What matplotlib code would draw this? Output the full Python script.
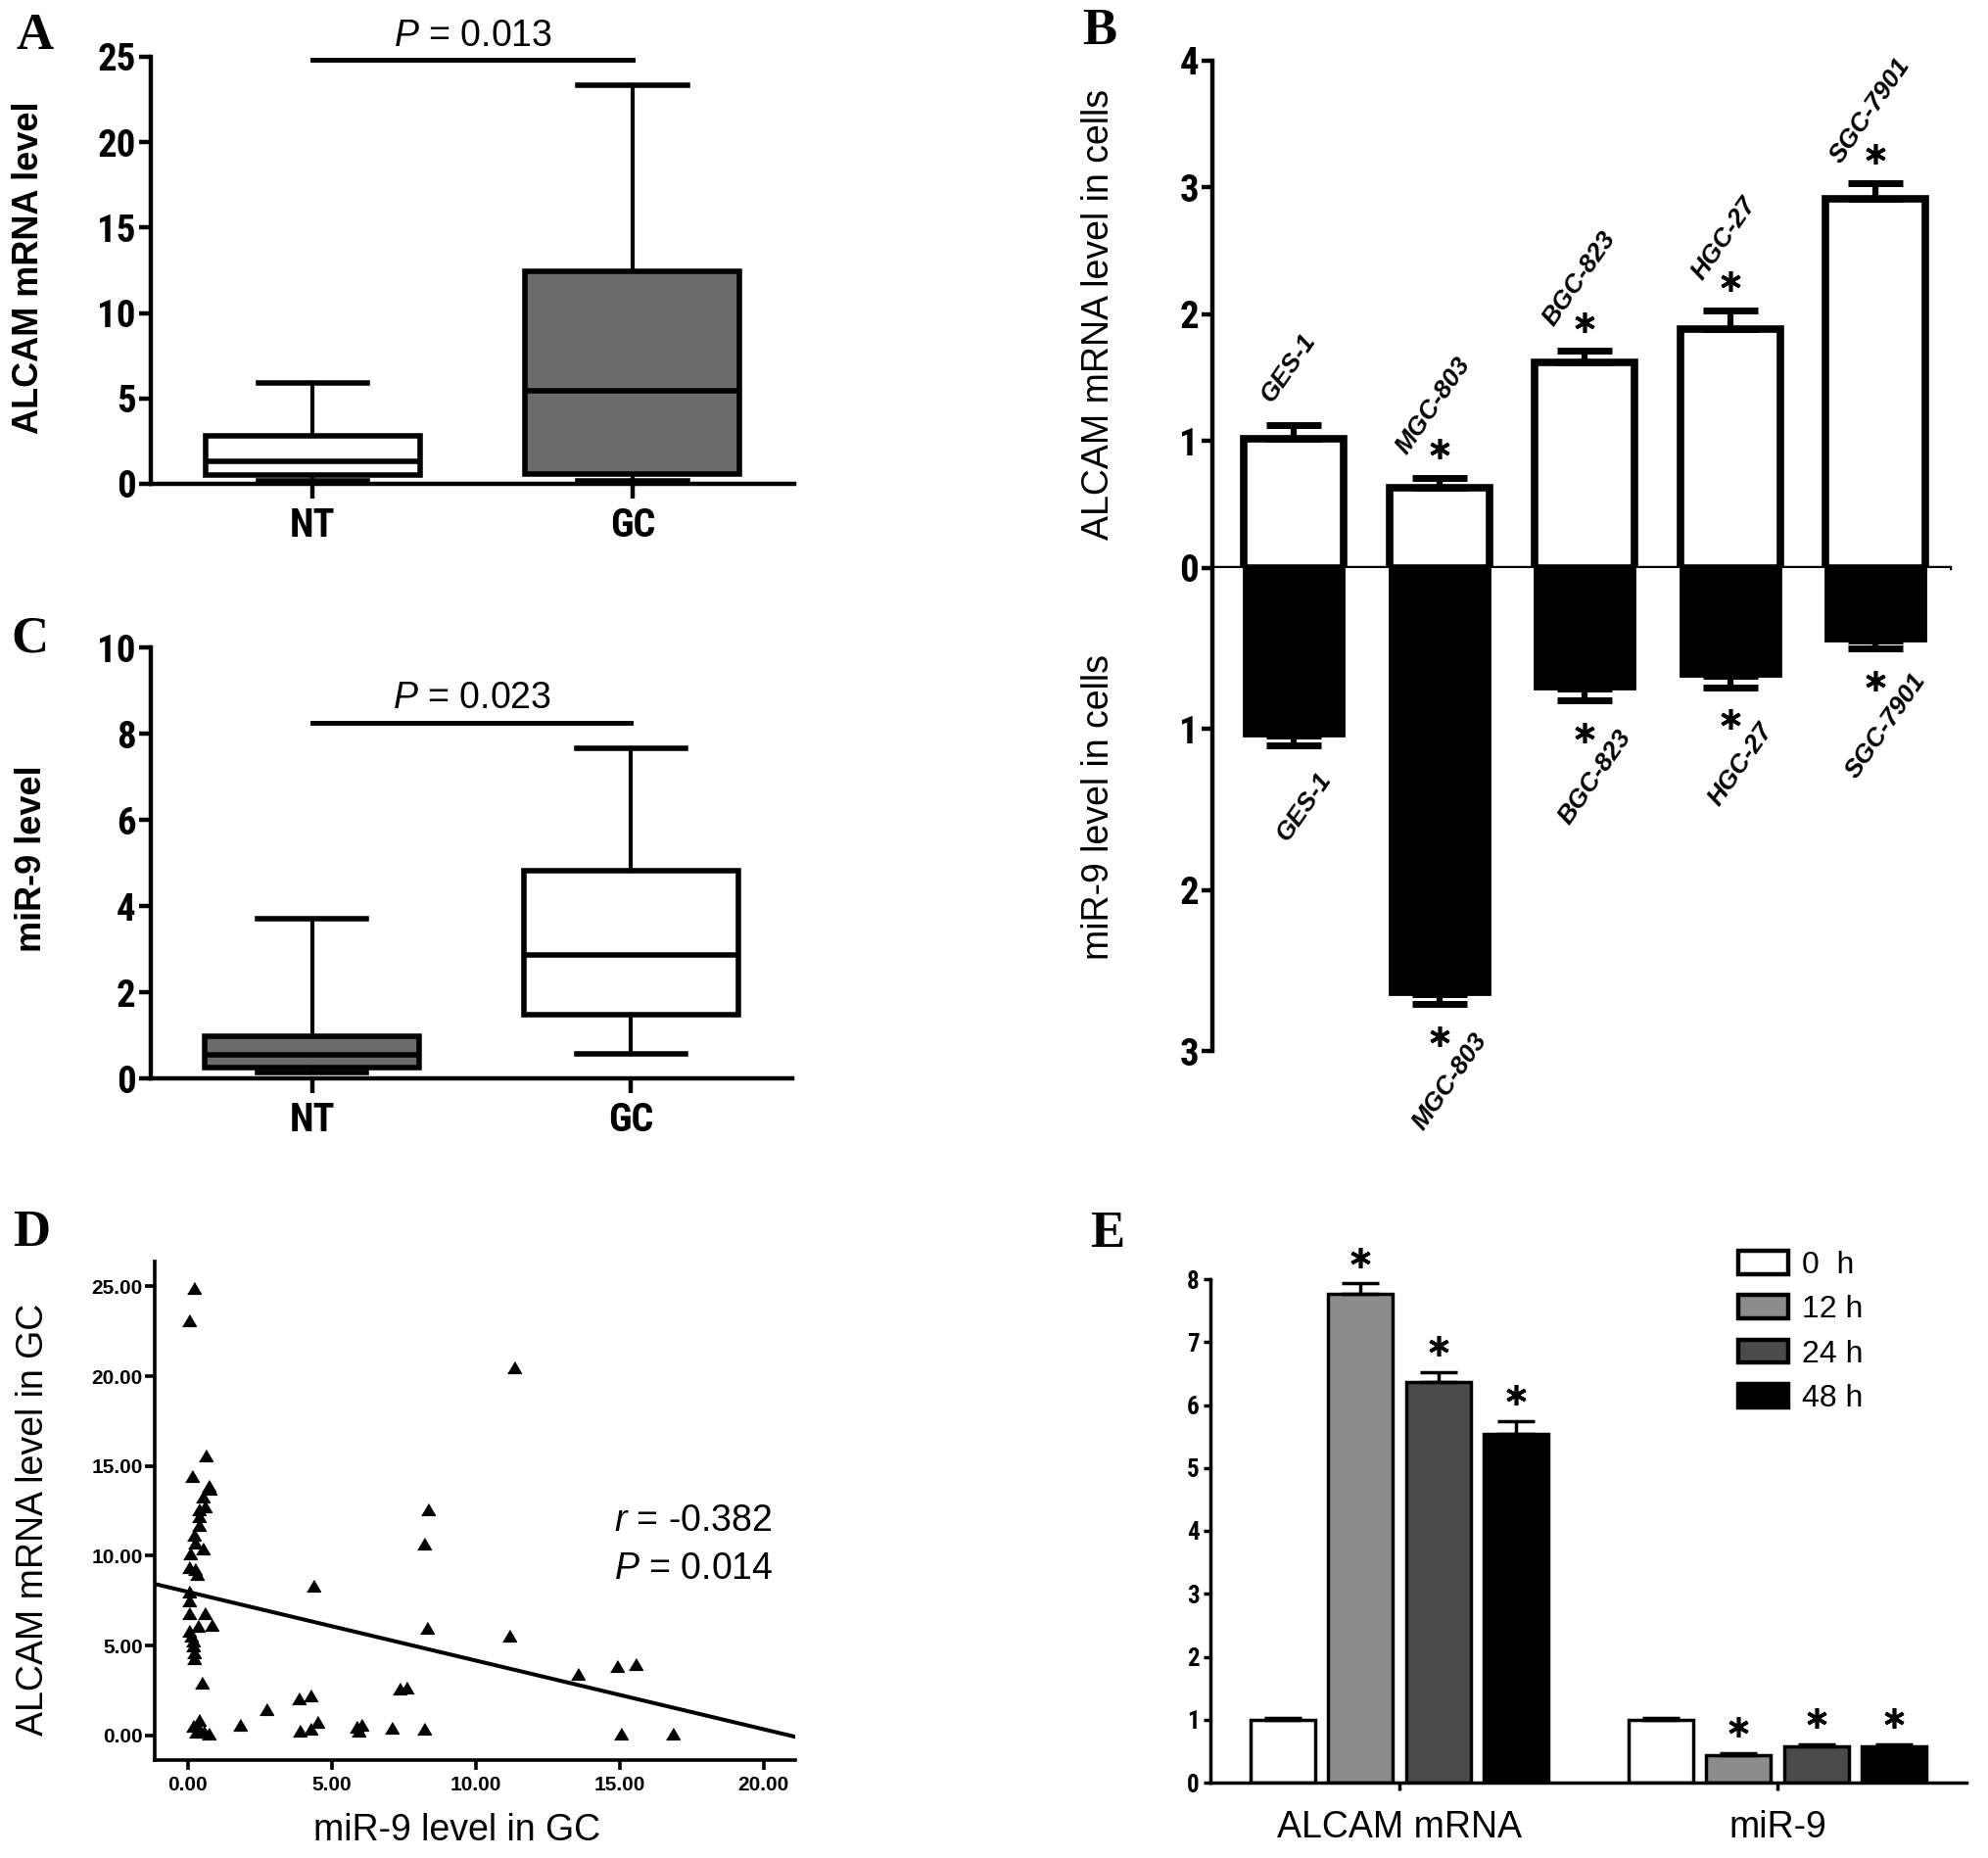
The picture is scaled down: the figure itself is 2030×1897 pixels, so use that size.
import matplotlib
matplotlib.use('Agg')
import matplotlib.pyplot as plt
from matplotlib import font_manager
from matplotlib.ticker import FormatStrFormatter

installed = {f.name for f in font_manager.fontManager.ttflist}
SANS = 'Liberation Sans' if 'Liberation Sans' in installed else 'DejaVu Sans'
SERIF = 'Liberation Serif' if 'Liberation Serif' in installed else 'DejaVu Serif'
NARROW = next((n for n in ['Liberation Sans Narrow', 'Roboto Condensed', 'Open Sans Condensed']
               if n in installed), None)

plt.rcParams['font.family'] = [SANS, 'DejaVu Sans']
plt.rcParams['mathtext.fontset'] = 'custom'
plt.rcParams['mathtext.rm'] = SANS
plt.rcParams['mathtext.it'] = SANS + ':italic'
plt.rcParams['mathtext.bf'] = SANS + ':bold'

# ---------------- data ----------------
# A: ALCAM mRNA level, tissues (box plot stats)
box_groups = ['NT', 'GC']
a_q1 = [0.50, 0.60]
a_med = [1.30, 5.45]
a_q3 = [2.80, 12.45]
a_lo = [0.17, 0.15]
a_hi = [5.88, 23.36]
a_fill = ['white', '#6b6b6b']
a_p = '$\\mathit{P}$ = 0.013'

# C: miR-9 level, tissues
c_q1 = [0.24, 1.49]
c_med = [0.55, 2.87]
c_q3 = [0.985, 4.82]
c_lo = [0.13, 0.57]
c_hi = [3.72, 7.67]
c_fill = ['#6b6b6b', 'white']
c_p = '$\\mathit{P}$ = 0.023'

# B: cell lines
cell_lines = ['GES-1', 'MGC-803', 'BGC-823', 'HGC-27', 'SGC-7901']
b_alcam = [1.02, 0.63, 1.62, 1.88, 2.91]
b_alcam_err = [0.11, 0.08, 0.09, 0.15, 0.12]
b_mir9 = [1.04, 2.65, 0.75, 0.67, 0.45]
b_mir9_err = [0.06, 0.06, 0.07, 0.07, 0.05]
b_sig = [False, True, True, True, True]

# D: correlation in GC tissues
d_mir9 = [0.22, 0.05, 0.62, 0.15, 0.71, 0.75, 0.53, 0.37, 0.59, 0.37,
          0.39, 0.22, 0.25, 0.50, 0.07, 0.05, 0.25, 0.32, 0.05, 0.05,
          0.05, 0.58, 0.82, 0.35, 0.05, 0.10, 0.16, 0.19, 0.22, 0.22,
          0.47, 0.16, 0.37, 0.39, 0.56, 0.71, 0.27,
          1.81, 2.72, 3.85, 4.26, 4.35, 3.89, 4.26, 4.50, 5.87, 6.02,
          5.93, 7.09, 7.35, 7.59, 8.20, 8.33, 8.20, 8.30, 11.15, 11.33,
          13.56, 14.91, 15.56, 15.06, 16.85]
d_alcam = [24.92, 23.10, 15.59, 14.42, 13.91, 13.73, 13.28, 12.60, 12.73, 12.18,
           11.73, 11.18, 10.73, 10.40, 10.15, 9.37, 9.28, 9.00, 8.00, 7.51,
           6.82, 6.82, 6.13, 6.09, 5.82, 5.55, 5.28, 5.00, 4.64, 4.31,
           2.91, 0.55, 0.86, 0.37, 0.18, 0.09, 0.18,
           0.60, 1.47, 2.05, 2.21, 8.33, 0.26, 0.35, 0.77, 0.49, 0.58,
           0.26, 0.42, 2.58, 2.67, 0.35, 12.56, 10.65, 6.00, 5.53, 20.47,
           3.44, 3.84, 3.98, 0.12, 0.12]
d_intercept = 7.99
d_slope = -0.3825
d_r = '$\\mathit{r}$ = -0.382'
d_p = '$\\mathit{P}$ = 0.014'

# E: time course
e_groups = ['ALCAM mRNA', 'miR-9']
e_times = ['0  h', '12 h', '24 h', '48 h']
e_colors = ['white', '#8c8c8c', '#4b4b4b', 'black']
e_alcam = [1.00, 7.77, 6.37, 5.54]
e_alcam_err = [0.02, 0.16, 0.15, 0.20]
e_mir9 = [1.00, 0.43, 0.58, 0.57]
e_mir9_err = [0.02, 0.03, 0.03, 0.04]
e_sig = [False, True, True, True]

# ---------------- layout helpers (pixels) ----------------
W, H = 2031, 1897
fig = plt.figure(figsize=(W / 100, H / 100), dpi=100)


def rect(l, t, r, b):
    return [l / W, 1 - b / H, (r - l) / W, (b - t) / H]


def fpos(x, y):
    return x / W, 1 - y / H


def cond_ticks(ax, size, axis='both'):
    # condensed bold tick labels (Arial Narrow look)
    labels = []
    if axis in ('both', 'x'):
        labels += ax.get_xticklabels()
    if axis in ('both', 'y'):
        labels += ax.get_yticklabels()
    for t in labels:
        t.set_fontweight('bold')
        if NARROW:
            t.set_family([NARROW, SANS])
            t.set_fontsize(size)
        else:
            t.set_fontsize(size * 0.86)


def box_panel(r, q1, med, q3, lo, hi, fills, ymax, ystep, ptext, pbar, ptext_y):
    ax = fig.add_axes(rect(*r))
    stats = [dict(label=g, q1=a, med=m, q3=b, whislo=l, whishi=h, fliers=[])
             for g, a, m, b, l, h in zip(box_groups, q1, med, q3, lo, hi)]
    bp = ax.bxp(stats, positions=[1, 2], widths=0.67, capwidths=0.34,
                patch_artist=True, showfliers=False,
                boxprops=dict(linewidth=4, edgecolor='k'),
                medianprops=dict(linewidth=4, color='k'),
                whiskerprops=dict(linewidth=3, color='k'),
                capprops=dict(linewidth=4, color='k'))
    for patch, c in zip(bp['boxes'], fills):
        patch.set_facecolor(c)
    ax.set_xlim(0.495, 2.505)
    ax.set_ylim(0, ymax)
    ax.set_yticks(range(0, ymax + 1, ystep))
    for s in ['top', 'right']:
        ax.spines[s].set_visible(False)
    for s in ['left', 'bottom']:
        ax.spines[s].set_linewidth(3.2)
    ax.tick_params(axis='y', length=9, width=3.2, pad=2)
    ax.tick_params(axis='x', length=11, width=3.2, pad=6)
    cond_ticks(ax, 28, 'y')
    cond_ticks(ax, 29, 'x')
    ax.plot([1, 2], [pbar, pbar], color='k', lw=3.5, clip_on=False)
    ax.text(1.5, ptext_y, ptext, ha='center', va='center', fontsize=27, clip_on=False)
    return ax


# ---------------- A ----------------
ax_a = box_panel((154, 58, 811, 494), a_q1, a_med, a_q3, a_lo, a_hi, a_fill,
                 25, 5, a_p, 24.85, 26.2)
fig.text(*fpos(30, 273), 'ALCAM mRNA level', rotation=90, ha='center', va='center',
         fontsize=26, fontweight='bold')

# ---------------- C ----------------
ax_c = box_panel((154, 661.5, 809, 1101), c_q1, c_med, c_q3, c_lo, c_hi, c_fill,
                 10, 2, c_p, 8.25, 8.82)
fig.text(*fpos(33, 877), 'miR-9 level', rotation=90, ha='center', va='center',
         fontsize=26, fontweight='bold')

# ---------------- B ----------------
xb = list(range(len(cell_lines)))
ax_bu = fig.add_axes(rect(1238, 61.5, 1991, 580))
ax_bl = fig.add_axes(rect(1238, 580, 1991, 1073))
ax_bu.bar(xb, b_alcam, 0.687, color='white', edgecolor='k', linewidth=5.5, zorder=2)
ax_bu.errorbar(xb, b_alcam, yerr=[[0] * len(xb), b_alcam_err], fmt='none', ecolor='k',
               elinewidth=4.5, capsize=20, capthick=5, zorder=3)
ax_bl.bar(xb, b_mir9, 0.687, color='black', edgecolor='k', linewidth=2, zorder=2)
ax_bl.errorbar(xb, b_mir9, yerr=[[0] * len(xb), b_mir9_err], fmt='none', ecolor='k',
               elinewidth=4.5, capsize=20, capthick=5, zorder=3)
for ax in (ax_bu, ax_bl):
    ax.set_xlim(-0.56, 4.51)
    for s in ['top', 'right']:
        ax.spines[s].set_visible(False)
    ax.spines['left'].set_linewidth(3.2)
    ax.tick_params(axis='y', length=8, width=3.2, pad=2)
ax_bu.set_ylim(0, 4)
ax_bu.set_yticks(range(0, 5))
ax_bu.spines['bottom'].set_linewidth(3.2)
ax_bu.set_xticks(xb)
ax_bu.tick_params(axis='x', direction='in', length=7, width=3.5, labelbottom=False)
ax_bl.set_ylim(3, 0)
ax_bl.set_yticks([1, 2, 3])
ax_bl.spines['bottom'].set_visible(False)
ax_bl.set_xticks([])
cond_ticks(ax_bu, 28, 'y')
cond_ticks(ax_bl, 28, 'y')

for i, name in enumerate(cell_lines):
    top = b_alcam[i] + b_alcam_err[i]
    bot = b_mir9[i] + b_mir9_err[i]
    if b_sig[i]:
        ax_bu.plot(i, top + 0.23, marker=(6, 2, 0), ms=15, mew=2.6, color='k', ls='none')
        ax_bl.plot(i, bot + 0.20, marker=(6, 2, 0), ms=15, mew=2.6, color='k', ls='none',
                   clip_on=False)
    ax_bu.text(i - 0.04, top + (0.57 if b_sig[i] else 0.45), name, rotation=55,
               rotation_mode='anchor', ha='center', va='center', fontsize=19,
               fontweight='bold', style='italic')
    ax_bl.text(i + 0.07, bot + (0.48 if b_sig[i] else 0.38), name, rotation=55,
               rotation_mode='anchor', ha='center', va='center', fontsize=19,
               fontweight='bold', style='italic')
fig.text(*fpos(1122, 321), 'ALCAM mRNA level in cells', rotation=90, ha='center',
         va='center', fontsize=27)
fig.text(*fpos(1122, 824), 'miR-9 level in cells', rotation=90, ha='center',
         va='center', fontsize=27)

# ---------------- D ----------------
ax_d = fig.add_axes(rect(158.3, 1287.7, 812, 1796.7))
ax_d.plot(d_mir9, d_alcam, ls='none', marker=[(-1, -0.85), (1, -0.85), (0, 0.85)],
          ms=10, color='k')
ax_d.set_xlim(-1.14, 21.1)
ax_d.set_ylim(-1.36, 26.4)
xl = ax_d.get_xlim()
ax_d.plot(xl, [d_intercept + d_slope * x for x in xl], color='k', lw=2.9)
ax_d.set_xticks([0, 5, 10, 15, 20])
ax_d.set_yticks([0, 5, 10, 15, 20, 25])
ax_d.xaxis.set_major_formatter(FormatStrFormatter('%.2f'))
ax_d.yaxis.set_major_formatter(FormatStrFormatter('%.2f'))
for s in ['top', 'right']:
    ax_d.spines[s].set_visible(False)
for s in ['left', 'bottom']:
    ax_d.spines[s].set_linewidth(2.6)
ax_d.tick_params(length=7, width=2.6, pad=2, labelsize=15)
ax_d.tick_params(axis='x', pad=5)
for t in ax_d.get_xticklabels() + ax_d.get_yticklabels():
    t.set_fontweight('bold')
ax_d.text(14.8, 11.93, d_r, ha='left', va='center', fontsize=27)
ax_d.text(14.8, 9.26, d_p, ha='left', va='center', fontsize=27)
fig.text(*fpos(467, 1869), 'miR-9 level in GC', ha='center', va='center', fontsize=27)
fig.text(*fpos(34, 1551), 'ALCAM mRNA level in GC', rotation=90, ha='center',
         va='center', fontsize=27)

# ---------------- E ----------------
ax_e = fig.add_axes(rect(1236, 1306, 2008, 1820))
bars = []
for i, t in enumerate(e_times):
    xs = [g + (i - 1.5) * 0.206 for g in range(len(e_groups))]
    vals = [e_alcam[i], e_mir9[i]]
    errs = [e_alcam_err[i], e_mir9_err[i]]
    bars.append(ax_e.bar(xs, vals, 0.171, color=e_colors[i], edgecolor='k',
                         linewidth=2.5, zorder=2))
    ax_e.errorbar(xs, vals, yerr=[[0, 0], errs], fmt='none', ecolor='k', elinewidth=2.5,
                  capsize=14, capthick=2.5, zorder=3)
    if e_sig[i]:
        ax_e.plot(xs, [v + e + 0.42 for v, e in zip(vals, errs)], marker=(6, 2, 0),
                  ms=15, mew=2.6, color='k', ls='none', clip_on=False)
ax_e.set_xlim(-0.5, 1.5)
ax_e.set_ylim(0, 8)
ax_e.set_yticks(range(0, 9))
ax_e.set_xticks(range(len(e_groups)))
ax_e.set_xticklabels(e_groups)
for s in ['top', 'right']:
    ax_e.spines[s].set_visible(False)
for s in ['left', 'bottom']:
    ax_e.spines[s].set_linewidth(2.5)
ax_e.tick_params(axis='y', length=5, width=2.5, pad=3)
ax_e.tick_params(axis='x', length=6, width=2.5, pad=14, labelsize=27)
cond_ticks(ax_e, 18, 'y')
leg = ax_e.legend(bars, e_times, loc='upper left', bbox_to_anchor=fpos(1775, 1277),
                  bbox_transform=fig.transFigure, frameon=False, fontsize=23,
                  handlelength=1.6, handleheight=0.75, handletextpad=0.45,
                  labelspacing=0.48, borderpad=0, borderaxespad=0)
for h in leg.legend_handles:
    h.set_linewidth(3.2)

# ---------------- panel letters ----------------
for letter, (x, y) in zip('ABCDE', [(36, 37), (1123, 32), (30, 653), (32, 1259), (1131, 1260)]):
    fig.text(*fpos(x, y), letter, ha='center', va='center', fontsize=38,
             fontweight='bold', family=[SERIF, 'DejaVu Serif'])

fig.savefig('out.png', dpi=100)
